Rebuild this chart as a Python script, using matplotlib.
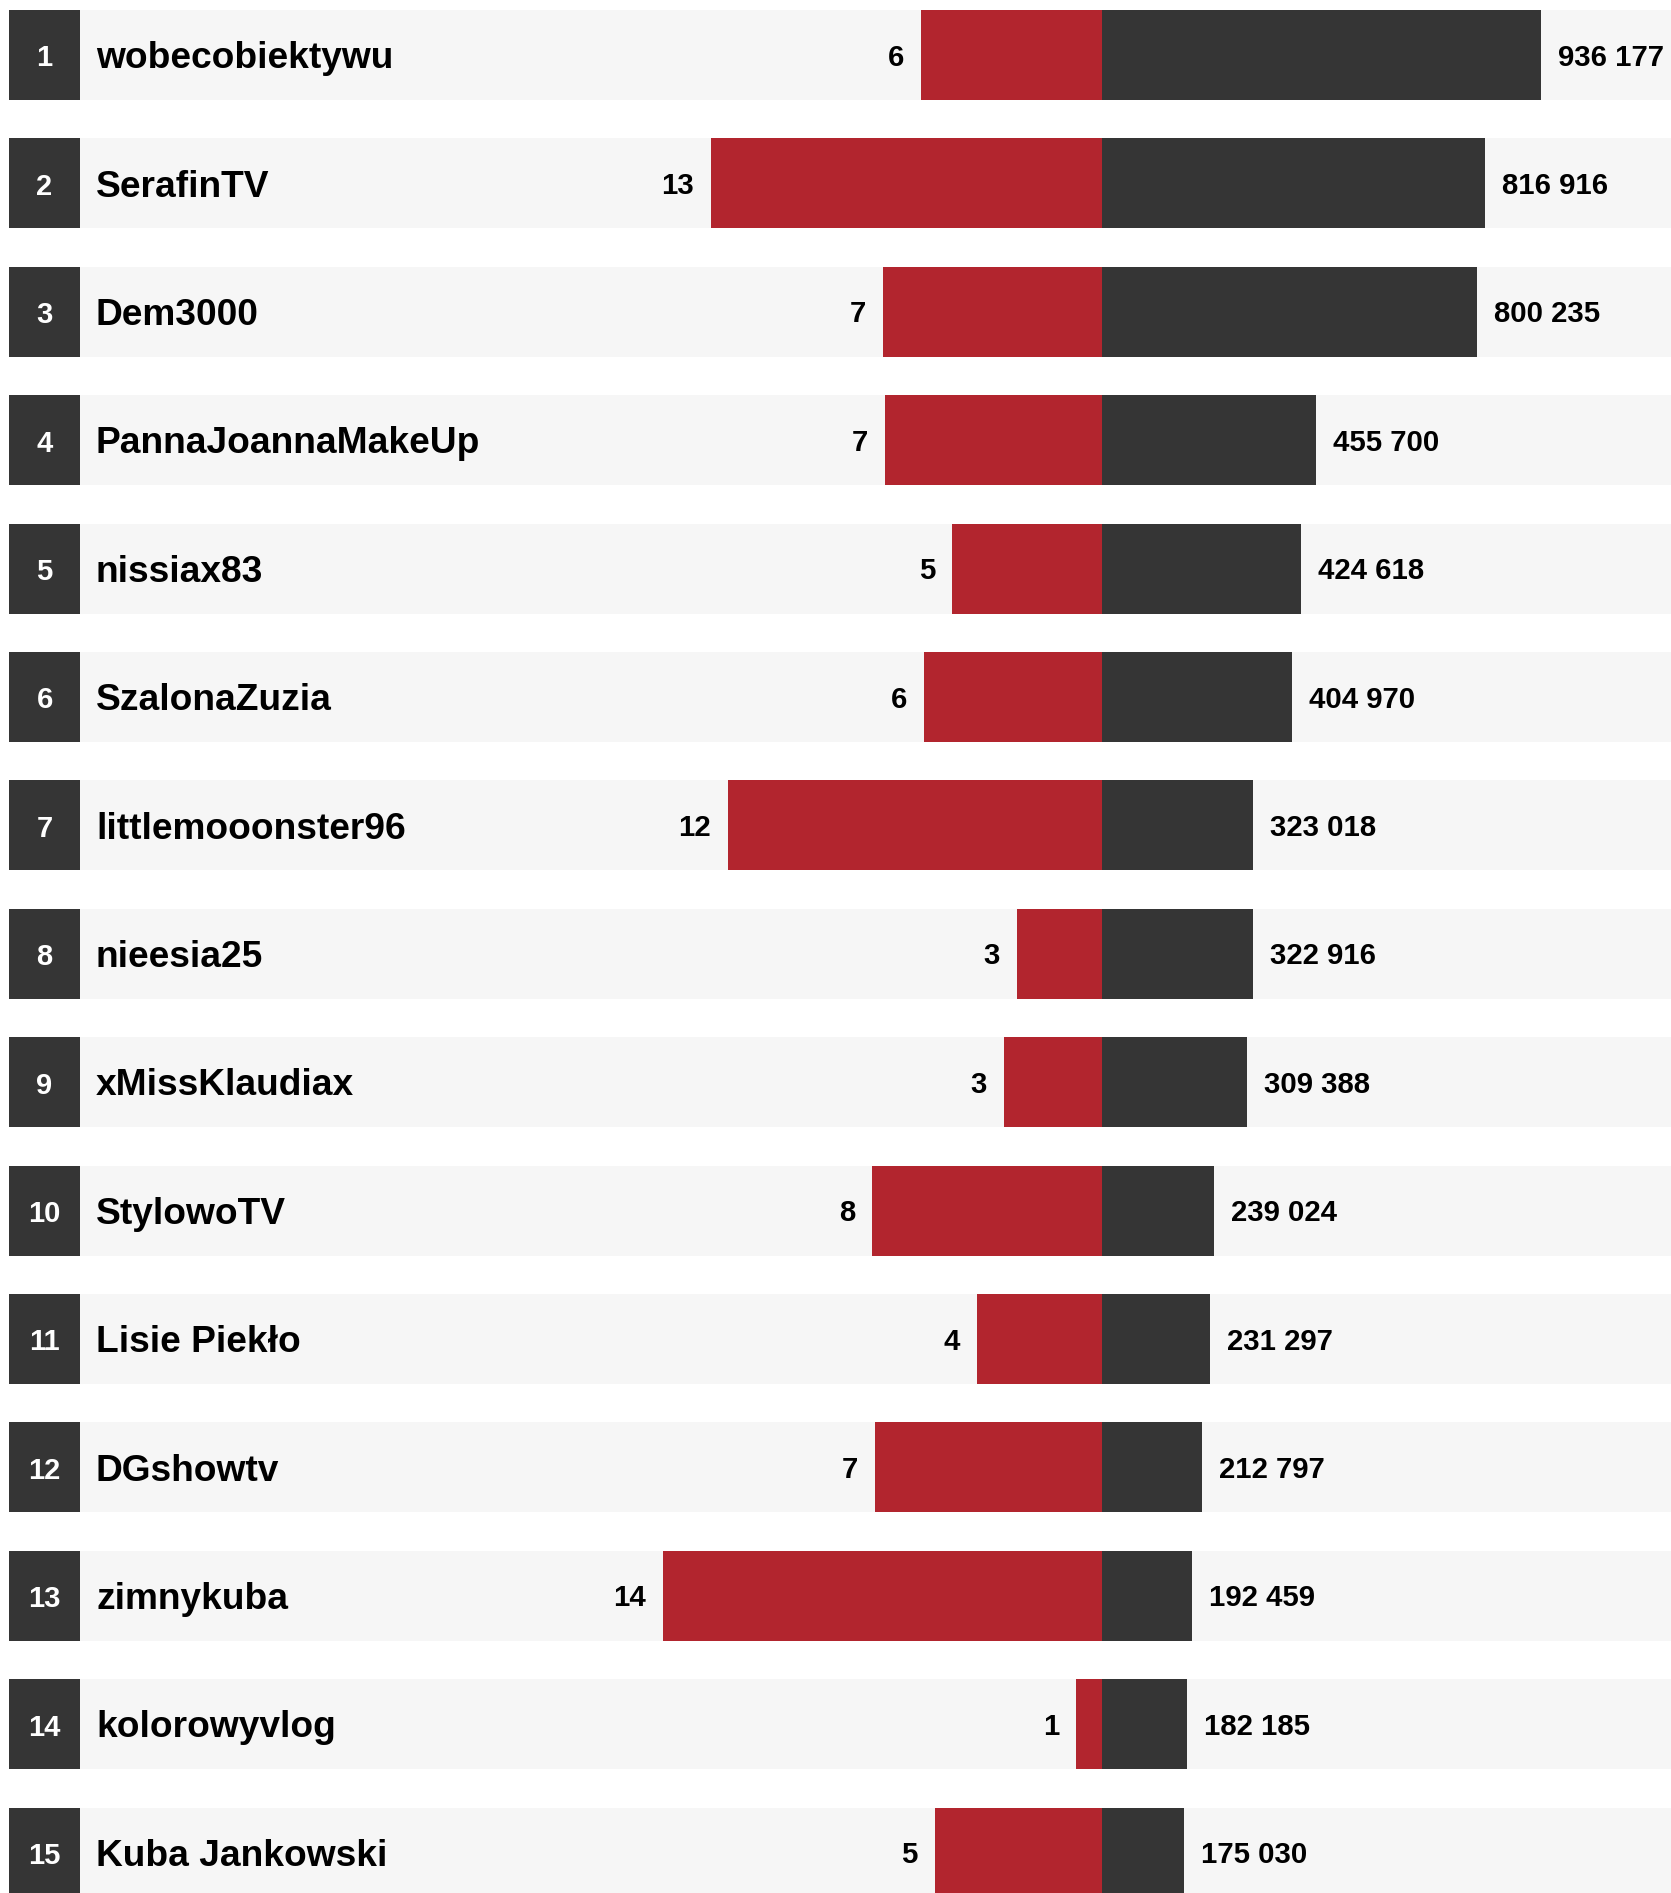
import matplotlib
matplotlib.use("Agg")
import matplotlib.pyplot as plt
from matplotlib.transforms import blended_transform_factory

# ---- data ----
ranks = list(range(1, 16))
names = ["wobecobiektywu", "SerafinTV", "Dem3000", "PannaJoannaMakeUp", "nissiax83",
         "SzalonaZuzia", "littlemooonster96", "nieesia25", "xMissKlaudiax", "StylowoTV",
         "Lisie Piekło", "DGshowtv", "zimnykuba", "kolorowyvlog", "Kuba Jankowski"]
views = [936177, 816916, 800235, 455700, 424618, 404970, 323018, 322916, 309388,
         239024, 231297, 212797, 192459, 182185, 175030]
red_values = [5.94, 12.83, 7.18, 7.12, 4.92, 5.84, 12.27, 2.79, 3.21, 7.54, 4.10,
              7.45, 14.40, 0.85, 5.48]

# ---- layout (pixels) ----
W, H = 1671, 1893
DPI = 100
pitch = 128.4
row_h = 90
first_center = 55
center_x = 1102
max_len = 439
box_l, box_r = 9, 80
name_x = 96
gap = 17

FS_NAME = 26.7
FS_RANK = 21
FS_VAL = 21.2
CAP = 0.716


def base_off(fs):
    # pixels from row centre down to baseline so that digits/caps are centred
    return -CAP * fs * DPI / 72 / 2


RED = "#b2252e"
DARK = "#353535"
BG = "#f6f6f6"

plt.rcParams['font.family'] = ['Liberation Sans', 'DejaVu Sans']

fig = plt.figure(figsize=(W / DPI, H / DPI), dpi=DPI)
fig.patch.set_facecolor("white")
ax = fig.add_axes([0, 0, 1, 1])
ax2 = ax.twiny()
for a in (ax, ax2):
    a.set_axis_off()

n = len(names)
y = list(range(n))
ylo = -first_center / pitch
yhi = (H - first_center) / pitch
ax.set_ylim(yhi, ylo)
ax2.set_ylim(yhi, ylo)

vmax = max(views)
rmax = max(red_values)
ax.set_xlim(-center_x / max_len * vmax, (W - center_x) / max_len * vmax)
ax2.set_xlim(-center_x / max_len * rmax, (W - center_x) / max_len * rmax)

bh = row_h / pitch
tr = blended_transform_factory(ax.transAxes, ax.transData)

# background rows and rank boxes
ax.barh(y, [1 - box_r / W] * n, left=box_r / W, height=bh, color=BG,
        transform=tr, zorder=0)
ax.barh(y, [(box_r - box_l) / W] * n, left=box_l / W, height=bh, color=DARK,
        transform=tr, zorder=1)

# bars
ax.barh(y, views, height=bh, color=DARK, zorder=2)
ax2.barh(y, [-v for v in red_values], height=bh, color=RED, zorder=2)

for i in range(n):
    ax.annotate(str(ranks[i]), xy=((box_l + box_r) / 2 / W, i), xycoords=tr,
                xytext=(0, base_off(FS_RANK) - 1), textcoords="offset pixels",
                ha="center", va="baseline", color="white", fontsize=FS_RANK,
                fontweight="bold", zorder=3)
    ax.annotate(names[i], xy=(name_x / W, i), xycoords=tr,
                xytext=(0, base_off(FS_NAME)), textcoords="offset pixels",
                ha="left", va="baseline", color="black", fontsize=FS_NAME,
                fontweight="bold", zorder=3)
    ax.annotate(f"{views[i]:,}".replace(",", " "), xy=(views[i], i),
                xytext=(gap, base_off(FS_VAL)), textcoords="offset pixels",
                ha="left", va="baseline", fontsize=FS_VAL, fontweight="bold",
                color="black", zorder=3)
    ax2.annotate(f"{red_values[i]:.0f}", xy=(-red_values[i], i),
                 xytext=(-gap, base_off(FS_VAL)), textcoords="offset pixels",
                 ha="right", va="baseline", fontsize=FS_VAL, fontweight="bold",
                 color="black", zorder=3)

fig.savefig("out.png", dpi=DPI, facecolor="white")
